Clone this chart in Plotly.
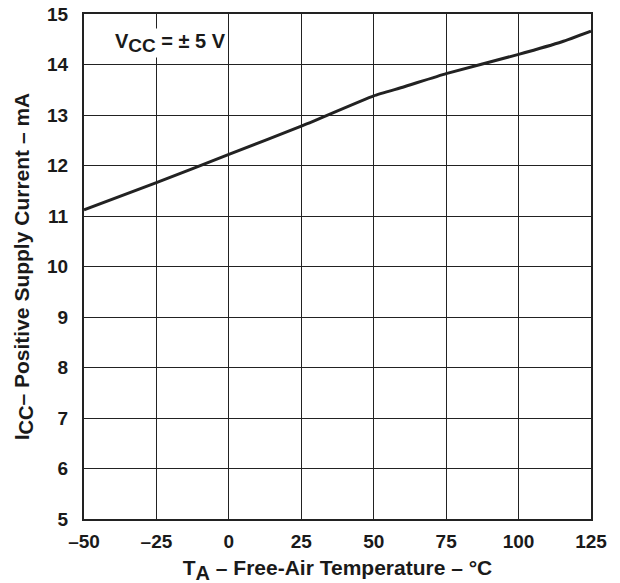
import plotly.graph_objects as go

temp_c = [-50, -25, 0, 25, 50, 60, 75, 100, 115, 125]
icc_ma = [11.12, 11.66, 12.22, 12.78, 13.38, 13.55, 13.82, 14.2, 14.45, 14.66]

x_ticks = [-50, -25, 0, 25, 50, 75, 100, 125]
x_labels = ["–50", "–25", "0", "25", "50", "75", "100", "125"]
y_ticks = [5, 6, 7, 8, 9, 10, 11, 12, 13, 14, 15]
y_labels = [str(v) for v in y_ticks]

FONT = "Liberation Sans, Arial, sans-serif"
SUB = '<sub><span style="font-size:%dpx">%s</span></sub>'

fig = go.Figure()
fig.add_trace(go.Scatter(x=temp_c, y=icc_ma, mode="lines",
                         line=dict(color="#222222", width=3, shape="spline", smoothing=0.4),
                         hoverinfo="skip", showlegend=False))

fig.update_layout(
    width=620, height=583,
    margin=dict(l=76, r=37, t=6, b=72, autoexpand=False),
    paper_bgcolor="white", plot_bgcolor="white",
    font=dict(family=FONT, color="#1a1a1a"),
    xaxis=dict(range=[-50, 125], tickvals=x_ticks,
               ticktext=["<b>%s</b>" % t for t in x_labels],
               showgrid=True, gridcolor="#222222", gridwidth=1,
               showline=True, linecolor="#222222", linewidth=2, mirror=True,
               ticks="", zeroline=False, automargin=False, ticklabelstandoff=4,
               ticklabeloverflow="allow",
               tickfont=dict(size=19, family=FONT, color="#1a1a1a"),
               title=dict(text="<b>T" + SUB % (20, "A") + " – Free-Air Temperature – °C</b>",
                          font=dict(size=21, family=FONT), standoff=10)),
    yaxis=dict(range=[5, 15], tickvals=y_ticks,
               ticktext=["<b>%s</b>" % t for t in y_labels],
               showgrid=True, gridcolor="#222222", gridwidth=1,
               showline=True, linecolor="#222222", linewidth=2, mirror=True,
               ticks="", zeroline=False, automargin=False, ticklabelstandoff=10,
               ticklabeloverflow="allow",
               tickfont=dict(size=19, family=FONT, color="#1a1a1a"),
               title=dict(text="<b>I" + SUB % (20, "CC") + "– Positive Supply Current – mA</b>",
                          font=dict(size=21, family=FONT), standoff=12)),
    annotations=[dict(x=0.058, y=0.943, xref="paper", yref="paper",
                      xanchor="left", yanchor="middle", showarrow=False,
                      text="<b>V" + SUB % (19, "CC") + " = ± 5 V</b>",
                      font=dict(size=20, family=FONT, color="#1a1a1a"),
                      bgcolor="white")],
)

fig.write_html("out.html")
